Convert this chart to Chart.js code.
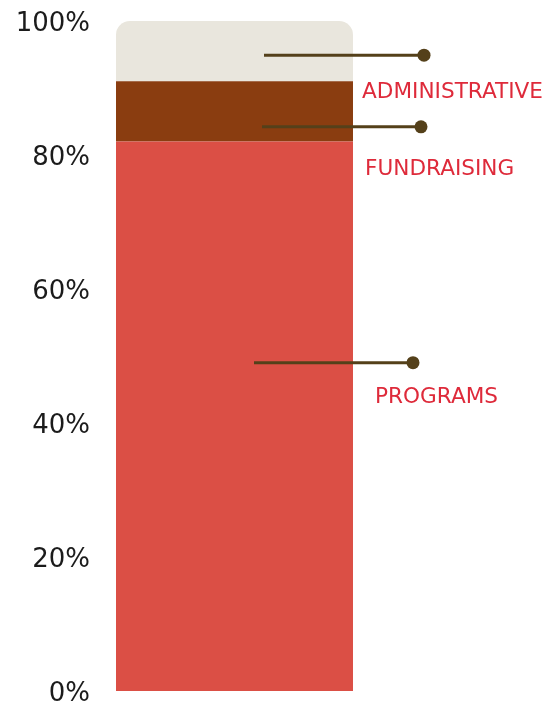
<!DOCTYPE html>
<html>
<head>
<meta charset="utf-8">
<script src="https://cdn.jsdelivr.net/npm/chart.js@4"></script>
<style>
  html, body { margin: 0; padding: 0; background: #fff; overflow: hidden; }
  #wrap { width: 556px; height: 704px; position: relative; }
</style>
</head>
<body>
<div id="wrap"><canvas id="c"></canvas></div>
<script>
// Datos
const categorias = ['Gastos'];
const series = ['PROGRAMS', 'FUNDRAISING', 'ADMINISTRATIVE'];
const valores = [82, 9, 9];
const colores = ['#db4f45', '#8a3d10', '#e9e6dd'];
// altura (en %) donde cae cada línea guía
const guias = [49, 84.2, 94.9];
const ticksY = [0, 20, 40, 60, 80, 100];

// estilo de las guías: inicio/fin relativo al centro de la barra, y el texto
const estiloGuia = [
  { x0: 19.5, x1: 178.5, lx: 140.5, ly: 40 },
  { x0: 27.5, x1: 186.5, lx: 130.5, ly: 48 },
  { x0: 29.5, x1: 189.5, lx: 127.5, ly: 43 },
];

const guiasPlugin = {
  id: 'guias',
  afterDatasetsDraw(chart) {
    const ctx = chart.ctx;
    const y = chart.scales.y;
    const bar = chart.getDatasetMeta(0).data[0];
    const cx = bar.x;
    ctx.save();
    series.forEach((s, i) => {
      const st = estiloGuia[i];
      const py = y.getPixelForValue(guias[i]);
      ctx.strokeStyle = '#54401a';
      ctx.lineWidth = 3;
      ctx.beginPath();
      ctx.moveTo(cx + st.x0, py);
      ctx.lineTo(cx + st.x1, py);
      ctx.stroke();
      ctx.fillStyle = '#54401a';
      ctx.beginPath();
      ctx.arc(cx + st.x1, py, 6.5, 0, Math.PI * 2);
      ctx.fill();
      ctx.fillStyle = '#de2a3a';
      ctx.font = '21.6px "DejaVu Sans"';
      ctx.textAlign = 'left';
      ctx.textBaseline = 'alphabetic';
      ctx.fillText(s, cx + st.lx, py + st.ly);
    });
    ctx.restore();
  }
};

new Chart(document.getElementById('c'), {
  type: 'bar',
  data: {
    labels: categorias,
    datasets: series.map((s, i) => ({
      label: s,
      data: [valores[i]],
      backgroundColor: colores[i],
      borderWidth: 0,
      borderSkipped: false,
      borderRadius: i === series.length - 1
        ? { topLeft: 14, topRight: 14, bottomLeft: 0, bottomRight: 0 } : 0,
      barPercentage: 0.881,
      categoryPercentage: 1,
    })),
  },
  options: {
    responsive: true, maintainAspectRatio: false, animation: false,
    layout: { padding: { top: 21, bottom: 13, left: 0, right: 187 } },
    plugins: { legend: { display: false }, tooltip: { enabled: false } },
    scales: {
      x: { stacked: true, display: false },
      y: {
        stacked: true, min: 0, max: 100,
        afterFit: s => { s.width = 100; s.paddingTop = 0; s.paddingBottom = 0; },
        afterBuildTicks: s => { s.ticks = ticksY.map(v => ({ value: v })); },
        grid: { display: false, drawTicks: false },
        border: { display: false },
        ticks: { padding: 10, labelOffset: 3, color: '#1b1b1b',
                 font: { family: 'DejaVu Sans', size: 26 },
                 callback: v => v + '%' },
      },
    },
  },
  plugins: [guiasPlugin],
});
</script>
</body>
</html>
